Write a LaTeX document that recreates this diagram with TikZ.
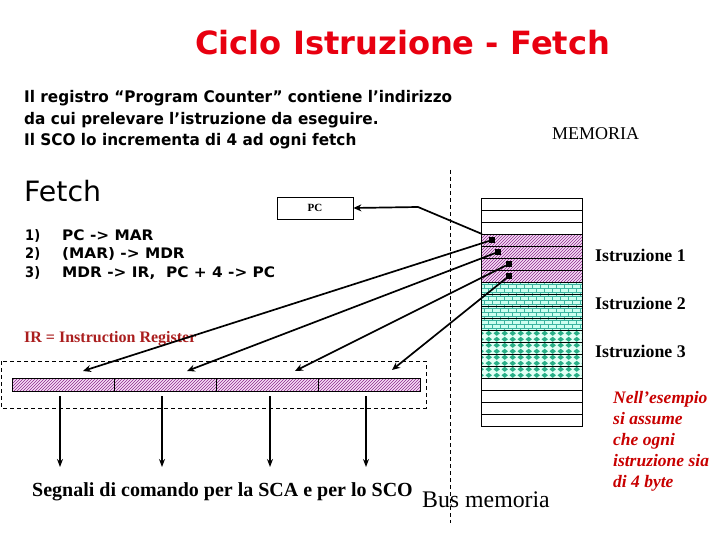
\documentclass[tikz,border=0pt]{standalone}
\usepackage{graphicx}
\usepackage{fontspec}
\setmainfont{Liberation Serif}
\newfontfamily\comic{DejaVu Sans}
\usetikzlibrary{patterns,arrows.meta}
\definecolor{titlered}{RGB}{232,0,16}
\definecolor{irred}{RGB}{170,30,30}
\definecolor{notered}{RGB}{200,0,0}
\definecolor{hatchpurple}{RGB}{140,40,140}
\definecolor{hatchbg}{RGB}{246,222,246}
\definecolor{brickteal}{RGB}{60,180,160}
\definecolor{brickbg}{RGB}{205,255,240}
\definecolor{diateal}{RGB}{40,175,135}
\definecolor{diabg}{RGB}{225,255,245}
\newcommand{\fitw}[2]{\resizebox{#1}{\height}{#2}}
\pgfdeclarepatternformonly{membricks}{\pgfqpoint{-0.5pt}{-0.5pt}}{\pgfqpoint{8.5pt}{8.5pt}}{\pgfqpoint{8pt}{8pt}}{%
  \pgfsetlinewidth{0.7pt}%
  \pgfpathmoveto{\pgfqpoint{0pt}{0pt}}\pgfpathlineto{\pgfqpoint{8pt}{0pt}}%
  \pgfpathmoveto{\pgfqpoint{0pt}{4pt}}\pgfpathlineto{\pgfqpoint{8pt}{4pt}}%
  \pgfpathmoveto{\pgfqpoint{0pt}{0pt}}\pgfpathlineto{\pgfqpoint{0pt}{4pt}}%
  \pgfpathmoveto{\pgfqpoint{4pt}{4pt}}\pgfpathlineto{\pgfqpoint{4pt}{8pt}}%
  \pgfusepath{stroke}}
\pgfdeclarepatternformonly{memdiamonds}{\pgfqpoint{0pt}{0pt}}{\pgfqpoint{7.7pt}{6pt}}{\pgfqpoint{7.7pt}{6pt}}{%
  \pgfpathmoveto{\pgfqpoint{3.85pt}{0.2pt}}%
  \pgfpathlineto{\pgfqpoint{7.2pt}{3pt}}%
  \pgfpathlineto{\pgfqpoint{3.85pt}{5.8pt}}%
  \pgfpathlineto{\pgfqpoint{0.5pt}{3pt}}%
  \pgfpathclose\pgfusepath{fill}}
\tikzset{
  purplefill/.style={fill=hatchbg, postaction={pattern=north east lines, pattern color=hatchpurple}},
  brickfill/.style={fill=brickbg, postaction={pattern=membricks, pattern color=brickteal}},
  diafill/.style={fill=diabg, postaction={pattern=memdiamonds, pattern color=diateal}},
  cell/.style={draw=black, line width=0.8pt},
  ptr/.style={line width=1.7pt, -{Stealth[length=8pt,width=7pt]}},
  marker/.style={fill=black, minimum size=6pt, inner sep=0pt, draw=none},
  txt/.style={anchor=base west, inner sep=0pt},
  istr/.style={txt, font=\bfseries\fontsize{17.8}{20}\selectfont},
  dashline/.style={dashed, line width=0.9pt, dash pattern=on 4pt off 3pt},
}
\begin{document}
\begin{tikzpicture}[x=1pt,y=-1pt]
\useasboundingbox (0,0) rectangle (720,540);
% Title
\node[txt, text=titlered, font=\comic\bfseries\fontsize{32}{36}\selectfont] (title) at (195,55) {\fitw{415pt}{Ciclo Istruzione - Fetch}};
% Paragraph
\node[txt, font=\comic\bfseries\fontsize{16}{21}\selectfont] (para) at (24,103) {\fitw{428pt}{\begin{tabular}[t]{@{}l@{}}Il registro “Program Counter” contiene l’indirizzo\\da cui prelevare l’istruzione da eseguire.\\Il SCO lo incrementa di 4 ad ogni fetch\end{tabular}}};
\node[txt, font=\fontsize{18}{20}\selectfont] (mem) at (552,140) {MEMORIA};
% Fetch
\node[txt, font=\comic\fontsize{28}{30}\selectfont] (fetch) at (24,202) {\fitw{77pt}{Fetch}};
\node[txt, font=\comic\bfseries\fontsize{14.5}{18.5}\selectfont] (nums) at (25,240) {\fitw{15pt}{\begin{tabular}[t]{@{}l@{}}1)\\2)\\3)\end{tabular}}};
\node[txt, font=\comic\bfseries\fontsize{14.5}{18.5}\selectfont] (steps) at (62,240) {\fitw{213pt}{\begin{tabular}[t]{@{}l@{}}PC -> MAR\\(MAR) -> MDR\\MDR -> IR,\ \ PC + 4 -> PC\end{tabular}}};
% PC box
\node[draw, line width=0.8pt, minimum width=76pt, minimum height=22pt, inner sep=0pt, font=\bfseries\fontsize{11}{12}\selectfont] (pc) at (315,208) {PC};
% Bus
\draw[dashline] (450,170) -- (450,523);
% Memory column
\foreach \i in {0,1,2} {\draw[cell, fill=white] (481,198+12*\i) rectangle (582,210+12*\i);}
\foreach \i in {3,...,6} {\draw[cell, purplefill] (481,198+12*\i) rectangle (582,210+12*\i);}
\foreach \i in {7,...,10} {\draw[cell, brickfill] (481,198+12*\i) rectangle (582,210+12*\i);}
\foreach \i in {11,...,14} {\draw[cell, diafill] (481,198+12*\i) rectangle (582,210+12*\i);}
\foreach \i in {15,...,18} {\draw[cell, fill=white] (481,198+12*\i) rectangle (582,210+12*\i);}
\foreach \i in {0,...,18} {\draw[cell] (481,198+12*\i) rectangle (582,210+12*\i);}
\coordinate (memtop) at (482,234);
\coordinate (bend) at (418,207);
\node[istr] (i1) at (595,261) {Istruzione 1};
\node[istr] (i2) at (595,309) {Istruzione 2};
\node[istr] (i3) at (595,357) {Istruzione 3};
% markers
\node[marker] (m1) at (492,240) {};
\node[marker] (m2) at (498,252) {};
\node[marker] (m3) at (509,264) {};
\node[marker] (m4) at (509,276) {};
% PC arrow
\draw[ptr] (memtop) -- (bend) -- (pc.east);
% IR
\node[txt, text=irred, font=\bfseries\fontsize{16}{18}\selectfont] (irlab) at (24,342) {IR = Instruction Register};
\draw[dashline] (1,361) rectangle (426,408);
\foreach \i/\a/\b in {0/12/114,1/114/216,2/216/318,3/318/420} {
  \draw[line width=0.8pt, purplefill] (\a,378) rectangle (\b,391);
  \draw[line width=0.8pt] (\a,378) rectangle (\b,391);
}
\coordinate (t1) at (83,371);
\coordinate (t2) at (187,371);
\coordinate (t3) at (295,371);
\coordinate (t4) at (392,370);
\draw[ptr] (m1) -- (t1);
\draw[ptr] (m2) -- (t2);
\draw[ptr] (m3) -- (t3);
\draw[ptr] (m4) -- (t4);
% down arrows
\foreach \x in {60,162,270,366} {
  \coordinate (d\x) at (\x,396);
  \coordinate (e\x) at (\x,467);
  \draw[ptr, -{Stealth[length=8pt,width=6pt]}] (d\x) -- (e\x);
}
\node[txt, font=\bfseries\fontsize{20}{22}\selectfont] (sig) at (32,496) {Segnali di comando per la SCA e per lo SCO};
\node[txt, font=\fontsize{23.8}{26}\selectfont] (bus) at (422,507) {Bus memoria};
% note
\node[anchor=north west, inner sep=0pt, align=left, text=notered, font=\bfseries\itshape\fontsize{17.5}{21}\selectfont] (note) at (613,391) {Nell’esempio\\si assume\\che ogni\\istruzione sia\\di 4 byte};
\end{tikzpicture}
\end{document}
